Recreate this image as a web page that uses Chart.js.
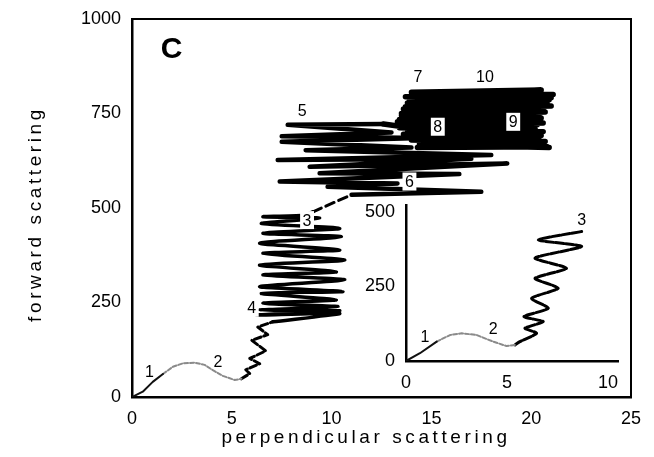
<!DOCTYPE html>
<html>
<head>
<meta charset="utf-8">
<script src="https://cdn.jsdelivr.net/npm/chart.js@4"></script>
<style>
  body { margin: 0; background: #fff; }
  #wrap { position: relative; width: 654px; height: 457px; }
  canvas { position: absolute; }
</style>
</head>
<body>
<div id="wrap">
  <canvas id="main" width="654" height="457" style="left:0;top:0;width:654px;height:457px"></canvas>
  <canvas id="inset" width="290" height="205" style="left:350px;top:195px;width:290px;height:205px"></canvas>
</div>
<script>
// tick values
const xTicks = [0, 5, 10, 15, 20, 25];
const yTicks = [0, 250, 500, 750, 1000];
const insetXTicks = [0, 5, 10];
const insetYTicks = [0, 250, 500];

// main trajectory
const startX = [0, 0.54, 1.04, 1.55];
const startY = [0, 14, 40, 61];
const bumpX = [1.55, 2.05, 2.55, 3.13, 3.64, 4.05, 4.55, 5.14, 5.48];
const bumpY = [61, 80, 89, 91, 85, 71, 56, 45, 48];
const zigX = [5.48, 5.9, 5.7, 6.4, 5.9, 6.7, 6.0, 6.8, 6.3, 7.06];
const zigY = [48, 62, 72, 88, 102, 122, 150, 165, 185, 199];
const coilX = [7.06, 10.41, 6.23, 10.41, 6.39, 10.32, 6.56, 10.24, 6.48, 10.57, 6.39, 10.66, 6.56, 10.24, 6.39, 10.66, 6.56, 10.41, 6.39, 10.49, 6.56, 10.41, 6.48, 9.40, 6.56, 8.57, 9.07];
const coilY = [199, 221, 217, 228, 230, 239, 248, 257, 274, 279, 292, 310, 323, 331, 349, 362, 380, 389, 407, 424, 433, 446, 459, 473, 477, 481, 490];
const linkX = [9.07, 11.0];
const linkY = [490, 535];
const bandX = [11.0, 17.5, 9.8, 13.3, 7.4, 16.4, 9.4, 18.8, 8.9, 17.0, 7.3, 18.0, 8.7, 14.0, 7.5, 14.5, 7.5, 13.0, 7.8, 12.6];
const bandY = [535, 543, 556, 565, 570, 590, 592, 618, 609, 630, 627, 640, 653, 660, 675, 685, 690, 700, 720, 722];
const clusterX = [12.6, 20.8, 14.3, 20.6, 14.0, 20.4, 13.6, 20.6, 13.4, 20.3, 13.3, 20.5, 13.5, 20.7, 13.6, 21.0, 13.8, 20.9, 13.7, 21.1, 14.0, 20.5, 14.2, 21.0, 13.9, 20.8, 13.7, 20.6, 13.5, 20.4, 13.4, 20.6, 13.5, 20.2, 13.8, 20.5, 14.1, 20.7, 14.4, 20.9];
const clusterY = [722, 662, 660, 672, 680, 688, 695, 702, 712, 720, 728, 738, 745, 754, 762, 770, 778, 786, 794, 800, 806, 812, 800, 792, 784, 776, 768, 760, 750, 742, 734, 725, 716, 708, 700, 692, 684, 676, 668, 660];

// inset trajectory
const inStartX = [0, 0.69, 1.52];
const inStartY = [0, 26, 65];
const inBumpX = [1.52, 2.18, 2.76, 3.5, 4.32, 4.98, 5.4];
const inBumpY = [65, 87, 93, 87, 65, 50, 54];
const inZigX = [5.4, 5.64, 6.47, 5.89, 6.80, 5.84, 7.05, 6.22, 7.54, 6.39, 7.95, 6.39, 8.70, 6.55, 8.70];
const inZigY = [54, 65, 93, 110, 132, 149, 177, 210, 244, 277, 311, 345, 384, 406, 434];

// numbered markers
const tagText = ['1', '2', '4', '3', '5', '6', '7', '10', '8', '9'];
const tagX = [0.88, 4.3, 6.0, 8.77, 8.53, 13.9, 14.33, 17.68, 15.32, 19.1];
const tagY = [67, 93, 236, 468, 757, 570, 847, 847, 715, 728];
const tagBoxed = [false, false, true, true, false, true, false, false, true, true];
const insetTagText = ['1', '2', '3'];
const insetTagX = [0.94, 4.32, 8.7];
const insetTagY = [82, 110, 473];

const FONT = '"Liberation Sans", Arial, Helvetica, sans-serif';
Chart.defaults.font.family = FONT;
Chart.defaults.color = '#000';

function pts(xs, ys) {
  return xs.map((x, i) => ({ x: x, y: ys[i] }));
}

function seg(xs, ys, color, width, dash, tension) {
  return {
    data: pts(xs, ys),
    showLine: true,
    borderColor: color,
    borderWidth: width,
    borderDash: dash || [],
    borderJoinStyle: 'round',
    borderCapStyle: 'round',
    pointRadius: 0,
    fill: false,
    tension: tension || 0
  };
}

const tagPlugin = {
  id: 'tags',
  afterDatasetsDraw(chart, args, o) {
    const { ctx, scales } = chart;
    ctx.save();
    ctx.textAlign = 'center';
    ctx.textBaseline = 'middle';
    o.text.forEach((t, i) => {
      const px = scales.x.getPixelForValue(o.x[i]);
      const py = scales.y.getPixelForValue(o.y[i]);
      ctx.font = '16px ' + FONT;
      if (o.boxed && o.boxed[i]) {
        const w = ctx.measureText(t).width + 5;
        ctx.fillStyle = '#fff';
        ctx.fillRect(px - w / 2, py - 9, w, 18);
      }
      ctx.fillStyle = '#000';
      ctx.fillText(t, px, py + 1);
    });
    if (o.letter) {
      ctx.font = 'bold 30px ' + FONT;
      ctx.fillText(o.letter.text, scales.x.getPixelForValue(o.letter.x), scales.y.getPixelForValue(o.letter.y));
    }
    ctx.restore();
  }
};

const framePlugin = {
  id: 'frame',
  afterDraw(chart) {
    const { ctx, chartArea: a } = chart;
    ctx.save();
    ctx.strokeStyle = '#000';
    ctx.lineWidth = 2;
    ctx.beginPath();
    ctx.moveTo(a.left, a.top);
    ctx.lineTo(a.right, a.top);
    ctx.lineTo(a.right, a.bottom);
    ctx.stroke();
    ctx.restore();
  }
};

const titlePlugin = {
  id: 'axisTitles',
  afterDraw(chart, args, o) {
    const ctx = chart.ctx;
    ctx.save();
    ctx.font = '19px ' + FONT;
    ctx.letterSpacing = '3.6px';
    ctx.fillStyle = '#000';
    ctx.textAlign = 'center';
    ctx.textBaseline = 'middle';
    ctx.fillText(o.x, 366, 438);
    ctx.translate(36, 214);
    ctx.rotate(-Math.PI / 2);
    ctx.fillText(o.y, 0, 0);
    ctx.restore();
  }
};

function axis(min, max, ticks, isX, size) {
  return {
    type: 'linear',
    min: min,
    max: max,
    grid: { display: false },
    border: { display: true, color: '#000', width: 2.5 },
    ticks: {
      color: '#000',
      font: { size: 18 },
      padding: 3,
      maxRotation: 0,
      autoSkip: false,
      callback: v => String(v)
    },
    afterBuildTicks: s => { s.ticks = ticks.map(v => ({ value: v })); },
    afterFit: s => {
      if (isX) { s.height = size; s.paddingLeft = 0; s.paddingRight = 0; }
      else { s.width = size; s.paddingTop = 0; s.paddingBottom = 0; }
    }
  };
}

new Chart(document.getElementById('main'), {
  type: 'scatter',
  data: {
    datasets: [
      seg(startX, startY, '#111', 2),
      seg(bumpX, bumpY, '#8a8a8a', 2, [4, 2]),
      seg(zigX, zigY, '#000', 3, [7, 3]),
      seg(coilX, coilY, '#000', 3.5, [], 0.25),
      seg(linkX, linkY, '#000', 3, [9, 5]),
      seg(bandX, bandY, '#000', 4.5),
      seg(clusterX, clusterY, '#000', 5.5)
    ]
  },
  options: {
    responsive: false,
    animation: false,
    layout: { padding: { left: 0, top: 19, right: 23, bottom: 0 } },
    plugins: {
      legend: { display: false },
      tooltip: { enabled: false },
      tags: { text: tagText, x: tagX, y: tagY, boxed: tagBoxed, letter: { text: 'C', x: 1.98, y: 920 } },
      axisTitles: { x: 'perpendicular scattering', y: 'forward scattering' }
    },
    scales: {
      x: axis(0, 25, xTicks, true, 60),
      y: axis(0, 1000, yTicks, false, 132)
    }
  },
  plugins: [tagPlugin, framePlugin, titlePlugin]
});

new Chart(document.getElementById('inset'), {
  type: 'scatter',
  data: {
    datasets: [
      seg(inStartX, inStartY, '#111', 2),
      seg(inBumpX, inBumpY, '#8a8a8a', 2, [4, 2]),
      seg(inZigX, inZigY, '#000', 3, [8, 2], 0.2)
    ]
  },
  options: {
    responsive: false,
    animation: false,
    layout: { padding: { left: 0, top: 10, right: 22, bottom: 0 } },
    plugins: {
      legend: { display: false },
      tooltip: { enabled: false },
      tags: { text: insetTagText, x: insetTagX, y: insetTagY }
    },
    scales: {
      x: axis(0, 10.5, insetXTicks, true, 39),
      y: axis(0, 523, insetYTicks, false, 56)
    }
  },
  plugins: [tagPlugin]
});
</script>
</body>
</html>
